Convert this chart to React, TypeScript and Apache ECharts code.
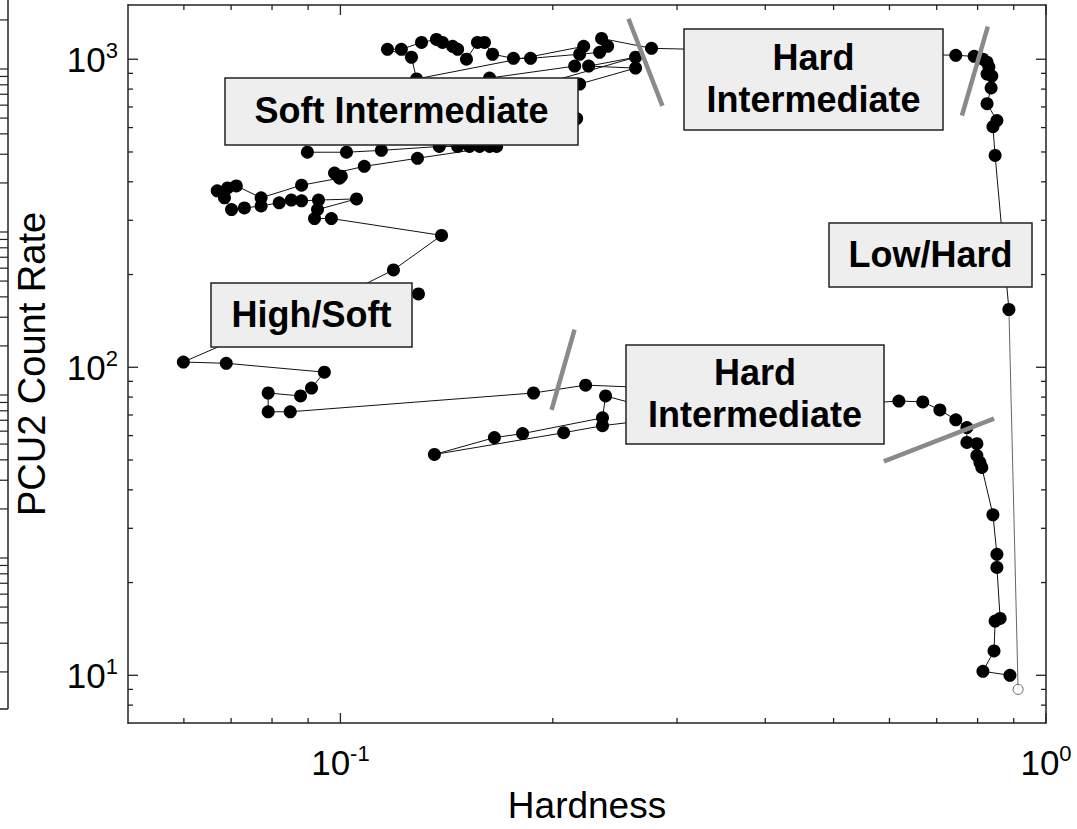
import React, { useEffect, useRef } from "react";
import * as echarts from "echarts";

// ---- Data (Hardness vs PCU2 count rate) ----
const startHardness = [0.913, 0.886];
const startRate = [9.0, 154];

const hardness = [
  0.886, 0.847, 0.841, 0.852, 0.825, 0.836, 0.838, 0.825, 0.83, 0.825, 0.814, 0.791, 0.745,
  0.276, 0.2345, 0.2392, 0.233, 0.2183, 0.186, 0.1759, 0.1643, 0.16, 0.1564, 0.1509, 0.1466, 0.1442, 0.1395, 0.1368, 0.1303, 0.122, 0.1166, 0.1261, 0.1282, 0.2212, 0.2148, 0.1627, 0.1428, 0.262, 0.2248, 0.262, 0.2183, 0.1794, 0.2162, 0.0875,
  0.0898, 0.102, 0.1143, 0.1381, 0.1466, 0.1524, 0.1575, 0.1627, 0.1665, 0.1286, 0.1081, 0.0981, 0.1003, 0.0997, 0.0881, 0.0772, 0.0712, 0.0692, 0.0669, 0.0685, 0.0701, 0.0731, 0.0772, 0.0819, 0.0852, 0.0881, 0.0931, 0.1054, 0.0928, 0.0919, 0.0971, 0.1391, 0.1189, 0.0965, 0.129, 0.0755,
  0.0599, 0.0689, 0.0949, 0.091, 0.0878, 0.079, 0.079, 0.0849, 0.1878, 0.2226, 0.2836, 0.2745, 0.2376, 0.2352, 0.1812, 0.1653, 0.1359, 0.2072, 0.2352, 0.323,
  0.6187, 0.6689, 0.7073, 0.745, 0.7725, 0.7725, 0.7981, 0.7981, 0.806, 0.811, 0.841, 0.852, 0.852, 0.861, 0.847, 0.844, 0.814, 0.889,
];
const countRate = [
  154, 487, 604, 632, 717, 807, 882, 895, 943, 978, 1000, 1022, 1030,
  1085, 1168, 1101, 1053, 1038, 1007, 1007, 1038, 1134, 1134, 1000, 1077, 1101, 1134, 1160, 1134, 1077, 1077, 1015, 863, 1101, 950, 869, 681, 1015, 950, 936, 831, 596, 642, 642,
  499, 499, 506, 521, 521, 521, 521, 521, 521, 477, 449, 427, 417, 411, 390, 355, 388, 382, 374, 355, 325, 329, 334, 342, 349, 347, 349, 352, 325, 304, 304, 268, 207, 163, 173, 131,
  104, 103, 96.4, 85.6, 80.7, 82.5, 71.7, 71.7, 82.5, 87.5, 85.6, 73.8, 80.7, 68.5, 60.9, 59.1, 52.1, 61.3, 64.6, 70.6,
  77.7, 77.2, 72.7, 67.5, 63.7, 57.0, 56.5, 51.7, 49.1, 47.3, 33.2, 24.7, 22.4, 15.3, 15.0, 12.0, 10.3, 10.0,
];

// state-transition markers (grey slashes), in data coordinates
const slashes = [
  [[0.256, 1354], [0.286, 706]],
  [[0.827, 1277], [0.76, 656]],
  [[0.2147, 132.5], [0.1992, 72.7]],
  [[0.844, 68.1], [0.589, 49.5]],
];

const X_MIN = 0.05;
const X_MAX = 1;
const Y_MIN = 7;
const Y_MAX = 1500;
const xMajorTicks = [0.1, 1];
const xMinorTicks = [0.06, 0.07, 0.08, 0.09, 0.2, 0.3, 0.4, 0.5, 0.6, 0.7, 0.8, 0.9];
const yMajorTicks = [10, 100, 1000];
const yMinorTicks = [8, 9, 20, 30, 40, 50, 60, 70, 80, 90, 200, 300, 400, 500, 600, 700, 800, 900];

const stateLabels = ["Soft Intermediate", "Hard\nIntermediate", "Low/Hard", "High/Soft", "Hard\nIntermediate"];
// layout of the label boxes (pixels)
const boxLayout = [
  { x: 225, y: 78, w: 353, h: 67 },
  { x: 684, y: 29, w: 259, h: 101 },
  { x: 829, y: 223, w: 203, h: 64 },
  { x: 211, y: 283, w: 201, h: 64 },
  { x: 626, y: 345, w: 258, h: 99 },
];

const FONT = '"Liberation Sans", Arial, Helvetica, sans-serif';

const powLabel = (v: number) => {
  const e = Math.log10(v);
  const r = Math.round(e);
  if (Math.abs(e - r) > 1e-6) return "";
  return `{b|10}{s|${r}}`;
};

const rich = {
  b: { fontSize: 35, fontFamily: FONT, color: "#000", lineHeight: 40 },
  s: { fontSize: 22, fontFamily: FONT, color: "#000", verticalAlign: "top", lineHeight: 17 },
};

const axisLineStyle = { color: "#222", width: 1.5 };

export default function App() {
  const ref = useRef<HTMLDivElement>(null);
  useEffect(() => {
    document.body.style.margin = "0";
    const chart = echarts.init(ref.current as HTMLDivElement, null, { renderer: "svg" });
    const mainData = hardness.map((h, i) => [h, countRate[i]]);
    const startData = startHardness.map((h, i) => [h, startRate[i]]);

    const option: any = {
      animation: false,
      backgroundColor: "#fff",
      grid: { left: 128, top: 5, width: 918, height: 724, containLabel: false },
      xAxis: [
        {
          type: "log",
          logBase: 10,
          min: X_MIN,
          max: X_MAX,
          position: "bottom",
          axisLine: { show: true, onZero: false, lineStyle: axisLineStyle },
          axisTick: { show: false },
          splitLine: { show: false },
          minorTick: { show: false },
          axisLabel: { show: true, customValues: xMajorTicks, formatter: powLabel, rich, margin: 19 },
          name: "Hardness",
          nameLocation: "middle",
          nameGap: 64,
          nameTextStyle: { fontSize: 37, fontFamily: FONT, color: "#000" },
        },
        {
          type: "log",
          logBase: 10,
          min: X_MIN,
          max: X_MAX,
          position: "top",
          axisLine: { show: true, onZero: false, lineStyle: axisLineStyle },
          axisTick: { show: false },
          splitLine: { show: false },
          axisLabel: { show: false },
        },
      ],
      yAxis: [
        {
          type: "log",
          logBase: 10,
          min: Y_MIN,
          max: Y_MAX,
          position: "left",
          axisLine: { show: true, onZero: false, lineStyle: axisLineStyle },
          axisTick: { show: false },
          splitLine: { show: false },
          axisLabel: { show: true, customValues: yMajorTicks, formatter: powLabel, rich, margin: 10 },
          name: "PCU2 Count Rate",
          nameLocation: "middle",
          nameGap: 77,
          nameTextStyle: { fontSize: 38, fontFamily: FONT, color: "#000" },
        },
        {
          type: "log",
          logBase: 10,
          min: Y_MIN,
          max: Y_MAX,
          position: "right",
          axisLine: { show: true, onZero: false, lineStyle: axisLineStyle },
          axisTick: { show: false },
          splitLine: { show: false },
          axisLabel: { show: false },
        },
      ],
      series: [
        {
          type: "line",
          data: startData,
          showSymbol: false,
          symbol: "none",
          lineStyle: { color: "#666", width: 1 },
          z: 2,
        },
        {
          type: "line",
          data: mainData,
          symbol: "circle",
          symbolSize: 13,
          itemStyle: { color: "#000" },
          lineStyle: { color: "#111", width: 1 },
          z: 3,
        },
        {
          type: "scatter",
          data: [startData[0]],
          symbol: "circle",
          symbolSize: 10,
          itemStyle: { color: "#fff", borderColor: "#444", borderWidth: 1 },
          z: 4,
        },
        ...slashes.map((s) => ({
          type: "line",
          data: s,
          symbol: "none",
          lineStyle: { color: "#8a8a8a", width: 4.5 },
          z: 5,
        })),
      ],
    };
    chart.setOption(option);

    const cx = (v: number) => chart.convertToPixel({ xAxisIndex: 0 } as any, v) as unknown as number;
    const cy = (v: number) => chart.convertToPixel({ yAxisIndex: 0 } as any, v) as unknown as number;
    const xL = cx(X_MIN);
    const xR = cx(X_MAX);
    const yB = cy(Y_MIN);
    const yT = cy(Y_MAX);

    const els: any[] = [];
    const tickStyle = { stroke: "#222", lineWidth: 1.3 };
    const addLine = (x1: number, y1: number, x2: number, y2: number, style: any = tickStyle) =>
      els.push({ type: "line", shape: { x1, y1, x2, y2 }, style, z: 60, silent: true });

    ([[xMajorTicks, 10], [xMinorTicks, 5]] as [number[], number][]).forEach(([vals, len]) => {
      vals.forEach((v) => {
        const p = cx(v);
        addLine(p, yB, p, yB - len);
        addLine(p, yT, p, yT + len);
      });
    });
    ([[yMajorTicks, 10], [yMinorTicks, 5]] as [number[], number][]).forEach(([vals, len]) => {
      vals.forEach((v) => {
        const p = cy(v);
        addLine(xL, p, xL + len, p);
        addLine(xR, p, xR - len, p);
      });
    });

    // fragment of a neighbouring panel cut off at the left edge
    const edgeStyle = { stroke: "#222", lineWidth: 1.5 };
    addLine(8, 0, 8, 709, edgeStyle);
    addLine(0, 709, 8, 709, edgeStyle);
    [558, 395, 232, 69, -94].forEach((m) => {
      for (let j = 1; j <= 9; j++) {
        const y = m + 163 * (1 - Math.log10(j));
        if (y >= 0 && y < 709) addLine(0, y, 8, y, { stroke: "#222", lineWidth: 1.2 });
      }
    });

    boxLayout.forEach((b, i) => {
      els.push({
        type: "rect",
        shape: { x: b.x, y: b.y, width: b.w, height: b.h },
        style: { fill: "#eeeeee", stroke: "#222", lineWidth: 1.5 },
        z: 100,
      });
      els.push({
        type: "text",
        style: {
          text: stateLabels[i],
          x: b.x + b.w / 2,
          y: b.y + b.h / 2 - 1,
          fontSize: 36,
          fontWeight: "bold",
          fontFamily: FONT,
          fill: "#000",
          align: "center",
          verticalAlign: "middle",
          textAlign: "center",
          textVerticalAlign: "middle",
          lineHeight: 42,
        },
        z: 101,
      });
    });

    chart.setOption({ graphic: { elements: els } });
    return () => chart.dispose();
  }, []);
  return <div ref={ref} style={{ position: "absolute", left: 0, top: 0, width: 1077, height: 829 }} />;
}
